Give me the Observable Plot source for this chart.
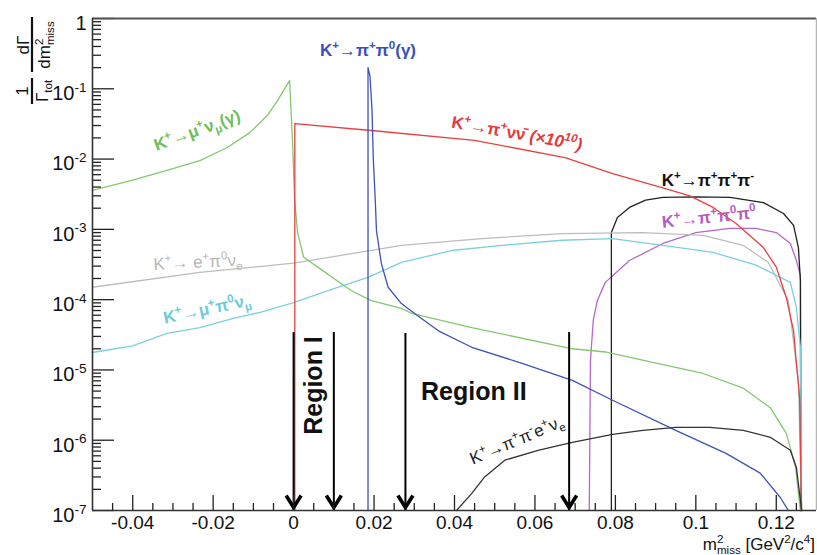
<!DOCTYPE html>
<html><head><meta charset="utf-8">
<script src="https://cdn.jsdelivr.net/npm/d3@7"></script>
<script src="https://cdn.jsdelivr.net/npm/@observablehq/plot@0.6"></script>
<style>body{margin:0;background:#fff;} #chart{width:817px;height:555px;}</style>
</head><body><div id="chart"></div>
<script>
// ---------- data (x in GeV^2/c^4, y = 1/Γtot dΓ/dm²miss) ----------
const xDomain = [-0.05, 0.13];
const yDomain = [1e-7, 1];

// K+ -> mu+ nu (gamma)
const muNuX = [-0.05,-0.04,-0.0315,-0.0233,-0.0165,-0.0108,-0.0065,-0.004,-0.001,-0.00025,0.00025,0.001,0.0025,0.006,0.0143,0.0193,0.0268,0.0293,0.0443,0.0693,0.0775,0.0893,0.1018,0.1118,0.1185,0.1225,0.1248,0.126];
const muNuY = [3.6e-3,5.0e-3,6.9e-3,9.5e-3,1.46e-2,2.4e-2,4.2e-2,6.8e-2,0.131,1.7e-2,2.6e-3,9.0e-4,4.0e-4,2.9e-4,1.35e-4,9.7e-5,7.5e-5,6.4e-5,4.0e-5,2.0e-5,1.8e-5,1.28e-5,8.9e-6,5.5e-6,2.9e-6,1.25e-6,4.1e-7,1e-7];
// K+ -> pi+ nu nubar (x1e10)
const pnnX = [0.0003,0.0003,0.0193,0.045,0.0675,0.0793,0.0918,0.0985,0.1043,0.11,0.1168,0.12,0.1225,0.1243,0.125,0.1258,0.126,0.1263];
const pnnY = [1e-7,3.2e-2,2.55e-2,1.84e-2,1.05e-2,6.2e-3,3.9e-3,3.0e-3,2.05e-3,1.21e-3,5.5e-4,2.9e-4,1.07e-4,3.6e-5,1.24e-5,4.1e-6,7.9e-7,1e-7];
// K+ -> pi+ pi0 (gamma)
const ppX = [0.0185,0.0185,0.019,0.0195,0.0198,0.0203,0.0206,0.0218,0.0235,0.0268,0.03,0.036,0.0443,0.0568,0.0693,0.0793,0.095,0.1075,0.116,0.121,0.123];
const ppY = [1e-7,0.2,0.15,4.9e-2,1.05e-2,2.6e-3,9.6e-4,3.3e-4,1.5e-4,8.8e-5,6.4e-5,3.6e-5,2.1e-5,1.24e-5,7.1e-6,3.7e-6,1.38e-6,6.5e-7,3.4e-7,1.53e-7,1e-7];
// K+ -> e+ pi0 nu_e
const ke3X = [-0.05,-0.0233,0.0,0.0268,0.0468,0.0668,0.0868,0.1018,0.1118,0.118,0.123,0.1255,0.1263];
const ke3Y = [1.5e-4,2.44e-4,3.3e-4,5.9e-4,7.4e-4,8.7e-4,9.0e-4,8.2e-4,5.9e-4,3.4e-4,9.7e-5,7.1e-6,1e-7];
// K+ -> mu+ pi0 nu_mu
const kmu3X = [-0.05,-0.04,-0.0315,-0.0233,-0.015,-0.0083,0.0,0.01,0.0185,0.0268,0.0393,0.0518,0.0668,0.0793,0.0918,0.1043,0.115,0.121,0.1235,0.125,0.126,0.1263];
const kmu3Y = [1.77e-5,2.2e-5,3.3e-5,4.0e-5,5.4e-5,6.6e-5,9.1e-5,1.44e-4,2.07e-4,3.4e-4,5.0e-4,5.9e-4,7.0e-4,7.4e-4,5.9e-4,4.7e-4,3.1e-4,2.07e-4,1.76e-4,7.7e-5,2.1e-5,1e-7];
// K+ -> pi+ pi+ pi-
const k3piX = [0.079,0.079,0.0805,0.0835,0.0875,0.0918,0.1,0.1085,0.1168,0.1218,0.1243,0.1255,0.126,0.1261];
const k3piY = [1e-7,9.0e-4,1.48e-3,2.05e-3,2.6e-3,2.85e-3,2.9e-3,2.85e-3,2.4e-3,1.68e-3,1.14e-3,5.5e-4,1.88e-4,1e-7];
// K+ -> pi+ pi0 pi0
const k3pi0X = [0.0735,0.0738,0.0745,0.0755,0.0775,0.0835,0.0918,0.1,0.1085,0.115,0.12,0.1235,0.125,0.126,0.1262];
const k3pi0Y = [1e-7,1.36e-5,5.1e-5,9.7e-5,1.76e-4,3.6e-4,6.3e-4,9.0e-4,1.03e-3,1.03e-3,9.0e-4,6.3e-4,3.6e-4,2.2e-4,1e-7];
// K+ -> pi+ pi- e+ nu_e
const ke4X = [0.0405,0.0443,0.0475,0.0525,0.061,0.0693,0.0793,0.0868,0.095,0.1035,0.1118,0.1185,0.1235,0.125,0.1263];
const ke4Y = [1e-7,1.75e-7,3.0e-7,5.2e-7,7.2e-7,9.3e-7,1.21e-6,1.38e-6,1.52e-6,1.52e-6,1.38e-6,1.1e-6,7.2e-7,4.1e-7,1e-7];

// region arrows
const arrowX = [0.0, 0.01, 0.0278, 0.0685];
const arrowTop = [3.4e-5, 3.4e-5, 3.3e-5, 3.4e-5];

// labels
const labelText = ["K^{+}→μ^{+}ν_{μ}(γ)", "K^{+}→π^{+}π^{0}(γ)", "K^{+}→π^{+}νν\u0304 ~{(×10^{10})}", "K^{+}→π^{+}π^{+}π^{-}", "K^{+}→π^{+}π^{0}π^{0}", "K^{+}→ e^{+}π^{0}ν_{e}", "K^{+}→μ^{+}π^{0}ν_{μ}", "K^{+}→π^{+}π^{-}e^{+}ν_{e}", "Region I", "Region II"];
const labelX = [-0.024, 0.0185, 0.0555, 0.103, 0.1033, -0.0238, -0.0215, 0.0555, 0.005, 0.0448];
const labelY = [2.55e-2, 0.35, 2.3e-2, 4.96e-3, 1.48e-3, 3.4e-4, 7.3e-5, 1.0e-6, 6.0e-6, 4.9e-6];
const labelAngle = [-20, 0, 10, 0, -6, -3, -12, -23, -90, 0];
const labelColor = ["#6dbf5a","#3a4fb8","#e63a3a","#111111","#b45cc4","#b8b8b8","#6fcad9","#222222","#111111","#111111"];
const labelSize = [17, 17, 17, 17, 17, 17, 17, 17, 25, 25];
const labelWeight = ["bold","bold","bold","bold","bold","normal","bold","normal","bold","bold"];

// axis ticks
const xMajorTicks = [-0.04, -0.02, 0, 0.02, 0.04, 0.06, 0.08, 0.1, 0.12];
const yMajorTicks = [1e-7, 1e-6, 1e-5, 1e-4, 1e-3, 1e-2, 1e-1, 1];

// ---------- build ----------
const series = [
  {x: k3pi0X, y: k3pi0Y, c: "#b866c8"},
  {x: k3piX, y: k3piY, c: "#222222"},
  {x: ke3X, y: ke3Y, c: "#bdbdbd"},
  {x: kmu3X, y: kmu3Y, c: "#7ccfdd"},
  {x: muNuX, y: muNuY, c: "#84c86e"},
  {x: pnnX, y: pnnY, c: "#e84040"},
  {x: ppX, y: ppY, c: "#3f52b8"},
  {x: ke4X, y: ke4Y, c: "#333333"}
];
const lineMarks = series.map(s => Plot.line(s.x.map((x, i) => ({x, y: s.y[i]})),
  {x: "x", y: "y", stroke: s.c, strokeWidth: 1.3, strokeLinejoin: "round"}));

const xMinorTicks = d3.range(-9, 26).filter(i => i % 4 !== 0).map(i => i * 0.005);
const yMinorTicks = [];
for (let e = -7; e < 0; e++) for (let k = 2; k <= 9; k++) yMinorTicks.push(k * Math.pow(10, e));

const labels = labelText.map((t, i) => ({t, x: labelX[i], y: labelY[i], a: labelAngle[i], c: labelColor[i], s: labelSize[i], w: labelWeight[i]}));
const textMark = w => Plot.text(labels.filter(d => d.w === w),
  {x: "x", y: "y", text: "t", rotate: "a", fill: "c", fontSize: "s", fontWeight: w, textAnchor: "middle"});

const vHead = {draw(ctx) { ctx.moveTo(-7.5, -15); ctx.lineTo(0, -3); ctx.lineTo(7.5, -15); }};

const innerW = 817 - 92 - 1, innerH = 555 - 18 - 45;

const chart = Plot.plot({
  width: 817, height: 555,
  marginLeft: 92, marginRight: 1, marginTop: 18, marginBottom: 45,
  style: {fontFamily: "'Liberation Sans', Arial, sans-serif", background: "#fff", color: "#111"},
  x: {domain: xDomain},
  y: {type: "log", domain: yDomain},
  marks: [
    ...lineMarks,
    Plot.ruleX(arrowX, {x: d => d, y1: (d, i) => arrowTop[i], y2: () => yDomain[0], stroke: "#000", strokeWidth: 2}),
    Plot.dot(arrowX, {x: d => d, y: () => yDomain[0], symbol: vHead, r: 8, stroke: "#000", strokeWidth: 3.6, fill: "none", strokeLinejoin: "miter"}),
    textMark("bold"),
    textMark("normal"),
    Plot.tickX(xMajorTicks, {x: d => d, insetTop: innerH - 15, stroke: "#222", strokeWidth: 1.3}),
    Plot.tickX(xMinorTicks, {x: d => d, insetTop: innerH - 7, stroke: "#222", strokeWidth: 1.3}),
    Plot.tickY(yMajorTicks, {y: d => d, insetRight: innerW - 22, stroke: "#222", strokeWidth: 1.3}),
    Plot.tickY(yMinorTicks, {y: d => d, insetRight: innerW - 9, stroke: "#222", strokeWidth: 1.3}),
    Plot.ruleY([yDomain[1]], {stroke: "#555", strokeWidth: 2.2}),
    Plot.ruleX([xDomain[1]], {stroke: "#b5b5b5", strokeWidth: 1.5}),
    Plot.ruleX([xDomain[0]], {stroke: "#333", strokeWidth: 1.6}),
    Plot.ruleY([yDomain[0]], {stroke: "#333", strokeWidth: 1.6}),
    Plot.axisX(xMajorTicks, {tickSize: 0, tickPadding: 5, fontSize: 19, label: null,
      tickFormat: d => String(+d.toFixed(2))}),
    Plot.axisY(yMajorTicks, {tickSize: 0, tickPadding: 6, fontSize: 20, label: null, dy: 5,
      tickFormat: d => d === 1 ? "1" : "10^{" + Math.round(Math.log10(d)) + "}"})
  ]
});
document.getElementById("chart").append(chart);

// ---------- axis titles ----------
const svg = d3.select(chart);
svg.append("text").attr("x", 815).attr("y", 550).attr("text-anchor", "end")
  .attr("font-size", 17).attr("fill", "#111").text("m^{2}_{miss} [GeV^{2}/c^{4}]");

const g = svg.append("g").attr("transform", "translate(32,60) rotate(-90)")
  .attr("font-size", 17).attr("fill", "#111");
g.append("text").attr("x", 15).attr("y", -3).attr("text-anchor", "middle").text("dΓ");
g.append("line").attr("x1", -12).attr("x2", 43).attr("y1", 0).attr("y2", 0).attr("stroke", "#111").attr("stroke-width", 2.2);
g.append("text").attr("x", 15).attr("y", 18).attr("text-anchor", "middle").text("dm^{2}_{miss}");
g.append("text").attr("x", -31).attr("y", -4).attr("text-anchor", "middle").text("1");
g.append("line").attr("x1", -44).attr("x2", -18).attr("y1", 0).attr("y2", 0).attr("stroke", "#111").attr("stroke-width", 2.2);
g.append("text").attr("x", -31).attr("y", 16).attr("text-anchor", "middle").text("Γ_{tot}");

// ---------- rich text (super/subscripts) ----------
function parse(s) {
  const out = []; let i = 0, italic = false, buf = "";
  const push = (t, mode) => { if (t) out.push({t, mode, italic}); };
  while (i < s.length) {
    const c = s[i];
    if (c === "^" || c === "_") {
      push(buf, "n"); buf = "";
      const mode = c === "^" ? "sup" : "sub";
      let t;
      if (s[i + 1] === "{") { const j = s.indexOf("}", i + 2); t = s.slice(i + 2, j); i = j + 1; }
      else { t = s[i + 1]; i += 2; }
      push(t, mode);
    } else if (c === "~" && s[i + 1] === "{") { push(buf, "n"); buf = ""; italic = true; i += 2; }
    else if (c === "}" && italic) { push(buf, "n"); buf = ""; italic = false; i++; }
    else { buf += c; i++; }
  }
  push(buf, "n");
  return out;
}
function rich(el) {
  const s = el.textContent;
  if (!/[\^_~]/.test(s)) return;
  const fs = parseFloat(getComputedStyle(el).fontSize);
  const toks = parse(s);
  el.textContent = "";
  let shift = 0, prev = null;
  for (const tk of toks) {
    const target = tk.mode === "sup" ? -0.42 * fs : tk.mode === "sub" ? 0.26 * fs : 0;
    const ts = document.createElementNS("http://www.w3.org/2000/svg", "tspan");
    ts.textContent = tk.t;
    ts.setAttribute("dy", target - shift);
    if (tk.mode !== "n") ts.setAttribute("font-size", 0.68 * fs);
    if (tk.italic) ts.setAttribute("font-style", "italic");
    el.appendChild(ts);
    if (prev && prev.mode !== "n" && tk.mode !== "n" && prev.mode !== tk.mode) {
      ts.setAttribute("dx", -prev.el.getComputedTextLength());
    }
    shift = target;
    prev = {mode: tk.mode, el: ts};
  }
}
svg.selectAll("text").each(function() { rich(this); });
</script></body></html>
